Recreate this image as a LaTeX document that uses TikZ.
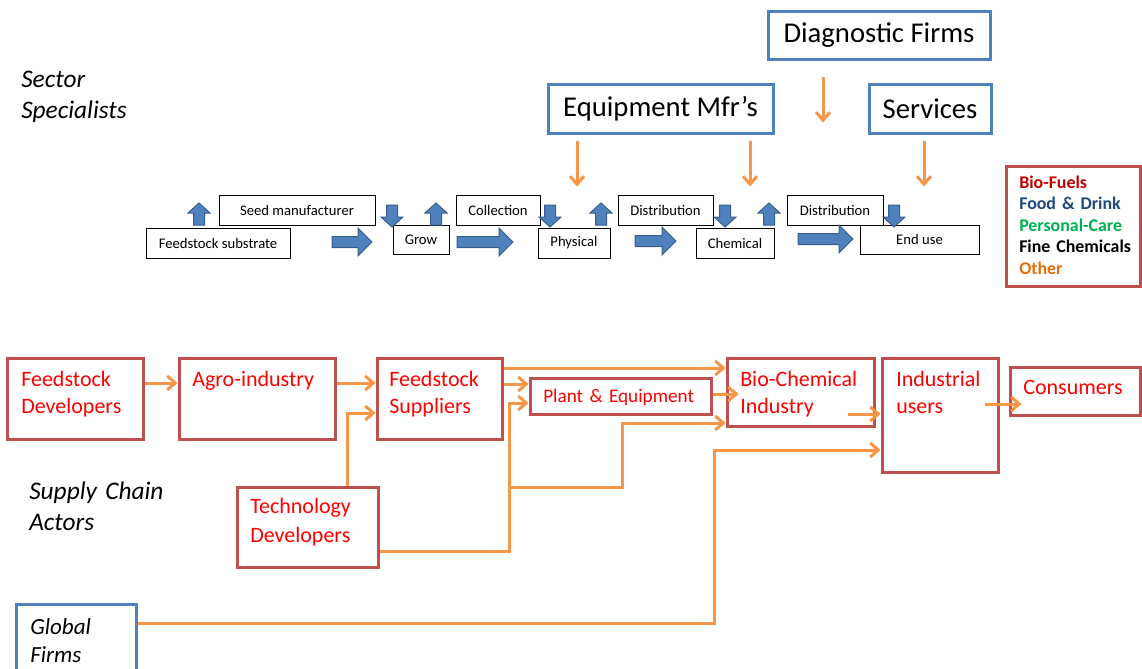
\documentclass[tikz,border=0pt]{standalone}
\usepackage{fontspec}
\setmainfont{Carlito}
\usetikzlibrary{arrows.meta,fit,calc}
\definecolor{orng}{HTML}{F79646}
\definecolor{redb}{HTML}{C0504D}
\definecolor{blueb}{HTML}{4F81BD}
\definecolor{bluedk}{HTML}{385D8A}
\definecolor{biofuel}{HTML}{C00000}
\definecolor{food}{HTML}{1F497D}
\definecolor{care}{HTML}{00B050}
\definecolor{other}{HTML}{E46C0A}
\definecolor{redtxt}{HTML}{FF0000}
\begin{document}
\begin{tikzpicture}[x=0.75pt,y=-0.75pt,
  sz/.style 2 args={minimum width=#1*0.75pt, minimum height=#2*0.75pt},
  bluebox/.style={draw=blueb, line width=2.25pt, fill=white, inner sep=0pt, font=\fontsize{21.5}{25}\selectfont},
  smallbox/.style={draw=black, line width=0.75pt, fill=white, inner sep=0pt, font=\fontsize{11}{13}\selectfont},
  redbox/.style={draw=redb, line width=2.25pt, inner sep=0pt},
  redtext/.style={text=redtxt, inner sep=0pt, anchor=base west, text width=140pt, align=left, font=\fontsize{16.5}{20.25}\selectfont},
  sidelabel/.style={inner sep=0pt, anchor=base west, text width=160pt, align=left, font=\itshape\fontsize{19}{23.25}\selectfont},
  conn/.style={draw=orng, line width=2.25pt, -{Straight Barb[length=6pt,width=10.5pt]}},
  blockarrow/.style={fill=blueb, draw=bluedk, line width=0.75pt},
  uparr/.pic={\path[blockarrow] (-5.5,0) -- (5.5,0) -- (5.5,-12) -- (11,-12) -- (0,-22) -- (-11,-12) -- (-5.5,-12) -- cycle;},
  dnarr/.pic={\path[blockarrow] (-5.5,0) -- (5.5,0) -- (5.5,12) -- (11,12) -- (0,22) -- (-11,12) -- (-5.5,12) -- cycle;},
  rarr/.pic={\path[blockarrow] (0,-5.5) -- (#1-14,-5.5) -- (#1-14,-14) -- (#1,0) -- (#1-14,14) -- (#1-14,5.5) -- (0,5.5) -- cycle;},
]
\useasboundingbox (0,0) rectangle (1142,668);
\clip (0,0) rectangle (1142,668);

% ---- Sector specialists ----
\node[sidelabel] (sector) at (21,87) {Sector\\Specialists};

\node[bluebox, sz={222}{48}] (diag) at (879,35) {Diagnostic Firms};
\node[bluebox, sz={225}{49}] (eqm) at (660.5,108.5) {Equipment Mfr’s};
\node[bluebox, sz={122}{49}] (serv) at (930,108.5) {Services};

\draw[conn] (diag.south -| 823,0) ++(0,16) -- ++(0,46);
\draw[conn] (eqm.south -| 577,0) ++(0,6) -- ++(0,46);
\draw[conn] (eqm.south -| 750,0) ++(0,6) -- ++(0,46);
\draw[conn] (serv.south -| 924,0) ++(0,6) -- ++(0,46);

\node[smallbox, sz={144}{30}] (sub) at (218,243) {Feedstock substrate};
\node[smallbox, sz={156}{30}] (seed) at (297,210) {Seed manufacturer};
\node[smallbox, sz={56}{29}] (grow) at (421,239.5) {Grow};
\node[smallbox, sz={84}{30}] (coll) at (498,210) {Collection};
\node[smallbox, sz={72}{30}] (phys) at (574,243) {Physical};
\node[smallbox, sz={95}{30}] (dist1) at (665.5,210) {Distribution};
\node[smallbox, sz={78}{30}] (chem) at (735,243) {Chemical};
\node[smallbox, sz={96}{30}] (dist2) at (835,210) {Distribution};
\node[smallbox, sz={119}{29}] (enduse) at (919.5,239.5) {End use};

\pic at (199,225) {uparr};
\pic at (436,225) {uparr};
\pic at (601,225) {uparr};
\pic at (769,225) {uparr};
\pic at (392,205) {dnarr};
\pic at (550,205) {dnarr};
\pic at (725,205) {dnarr};
\pic at (894,205) {dnarr};
\pic at (332,242) {rarr=40};
\pic at (457,242) {rarr=56};
\pic at (635,241) {rarr=41};
\pic at (798,239) {rarr=55};

% ---- legend ----
\node[draw=redb, line width=2.25pt, inner sep=0pt, fit={(1006,166)(1140,286)}] (legend) {};
\node[inner sep=0pt, anchor=base west, text width=120pt, align=left, font=\bfseries\fontsize{13.4}{16.2}\selectfont] (legtext) at (1019,188)
  {\textcolor{biofuel}{Bio-Fuels}\\\textcolor{food}{Food \& Drink}\\\textcolor{care}{Personal-Care}\\Fine Chemicals\\\textcolor{other}{Other}};

% ---- supply chain ----
\node[sidelabel] (supply) at (29,499) {Supply Chain\\Actors};

\node[redbox, fit={(7,358)(143,439)}] (fd) {};
\node[redtext] (fdt) at (21,386) {Feedstock\\Developers};
\node[redbox, fit={(179,358)(335,439)}] (agro) {};
\node[redtext] (agrot) at (192,386) {Agro-industry};
\node[redbox, fit={(377,358)(502,439)}] (fs) {};
\node[redtext] (fst) at (389,386) {Feedstock\\Suppliers};
\node[redbox, fit={(530,378)(711,414)}] (pe) {};
\node[redtext, font=\fontsize{14.4}{17}\selectfont] (pet) at (543,402) {Plant \& Equipment};
\node[redbox, fit={(727,358)(874,426)}] (bio) {};
\node[redtext] (biot) at (740,386) {Bio-Chemical\\Industry};
\node[redbox, fit={(882,358)(998,472)}] (ind) {};
\node[redtext] (indt) at (896,386) {Industrial\\users};
\node[redbox, fit={(1010,367)(1140,415)}] (cons) {};
\node[redtext] (const) at (1023,394) {Consumers};
\node[redbox, fit={(237,487)(378,567)}] (tech) {};
\node[redtext, font=\fontsize{16.5}{21.75}\selectfont] (techt) at (250,513) {Technology\\Developers};

\node[draw=blueb, line width=2.25pt, inner sep=0pt, fit={(16,604)(136,690)}] (gf) {};
\node[sidelabel, font=\itshape\fontsize{17.3}{21}\selectfont] (gft) at (30,634) {Global\\Firms};

\draw[conn] (fd.east |- 0,383) -- (agro.west |- 0,383);
\draw[conn] (agro.east |- 0,383) -- (fs.west |- 0,383);
\draw[conn] (tech.north -| 347,0) |- (fs.west |- 0,413);
\draw[conn] (fs.east |- 0,368) -- (bio.west |- 0,368);
\draw[conn] (fs.east |- 0,384) -- (pe.west |- 0,384);
\draw[conn] (tech.east |- 0,551) -| (509,403) -- (pe.west |- 0,403);
\coordinate (br) at (509,487);
\draw[conn] (br) -| (622,423) -- (bio.west |- 0,423);
\draw[conn] (pe.east |- 0,394) -- ($(bio.west |- 0,394)+(13,0)$);
\draw[conn] ($(bio.east |- 0,414)+(-28,0)$) -- (ind.west |- 0,414);
\draw[conn] (gf.east |- 0,623) -| (714,450) -- (ind.west |- 0,450);
\draw[conn] ($(ind.east |- 0,404)+(-15,0)$) -- ($(cons.west |- 0,404)+(13,0)$);
\end{tikzpicture}
\end{document}
